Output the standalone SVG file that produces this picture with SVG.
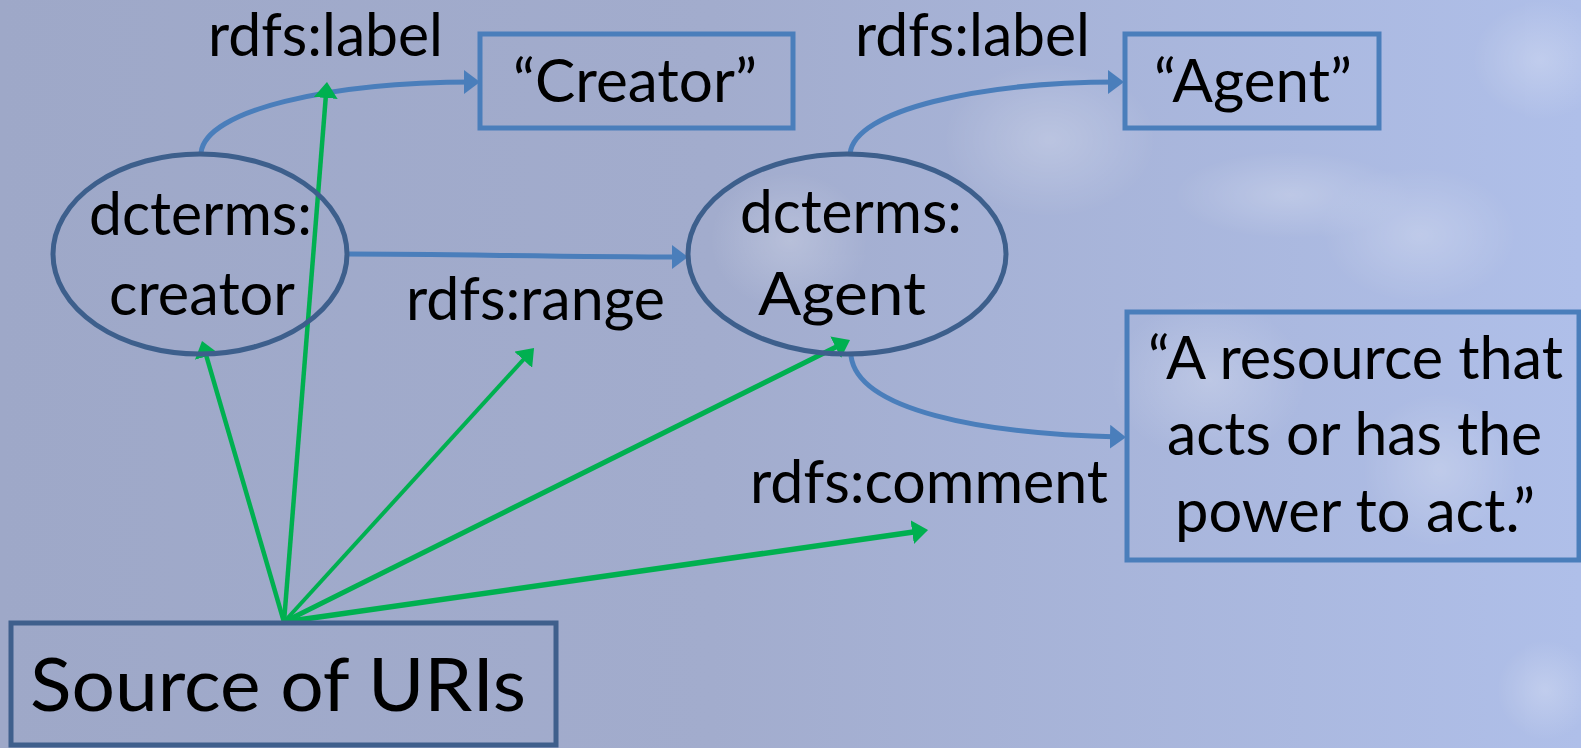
<svg xmlns="http://www.w3.org/2000/svg" width="1581" height="748" viewBox="0 0 1581 748">
<style>
text{font-family:Lato,"Liberation Sans",sans-serif;fill:#000;font-size:60px}
.big{font-size:74px}
.ell{fill:none;stroke:#3d5f8c;stroke-width:5}
.box{fill:none;stroke:#4a7ebb;stroke-width:5}
.src{fill:none;stroke:#3f5f8c;stroke-width:5}
.blue{fill:none;stroke:#4a7ebb;stroke-width:5;marker-end:url(#bh)}
.green{fill:none;stroke:#00b050;stroke-width:4.5;marker-end:url(#gh)}
</style>
<defs>
<linearGradient id="bg" x1="0" y1="0" x2="1" y2="0">
<stop offset="0" stop-color="#9ea8c8"/>
<stop offset="0.45" stop-color="#a2accd"/>
<stop offset="1" stop-color="#afbfe9"/>
</linearGradient>
<radialGradient id="glow">
<stop offset="0" stop-color="#ffffff" stop-opacity="0.5"/>
<stop offset="1" stop-color="#ffffff" stop-opacity="0"/>
</radialGradient>
<marker id="bh" viewBox="0 0 16 24" refX="10" refY="12" markerWidth="16" markerHeight="24" markerUnits="userSpaceOnUse" orient="auto">
<path d="M0,0 L16,12 L0,24 Z" fill="#4a7ebb"/>
</marker>
<marker id="gh" viewBox="0 0 16 24" refX="10" refY="12" markerWidth="16" markerHeight="24" markerUnits="userSpaceOnUse" orient="auto">
<path d="M0,0 L16,12 L0,24 Z" fill="#00b050"/>
</marker>
</defs>
<g id="background">
<rect x="0" y="0" width="1581" height="748" fill="url(#bg)"/>
<g opacity="0.45">
<ellipse cx="1050" cy="140" rx="110" ry="80" fill="url(#glow)"/>
<ellipse cx="790" cy="240" rx="80" ry="70" fill="url(#glow)"/>
<ellipse cx="1290" cy="195" rx="120" ry="45" fill="url(#glow)"/>
<ellipse cx="1420" cy="235" rx="100" ry="70" fill="url(#glow)"/>
<ellipse cx="1210" cy="380" rx="100" ry="80" fill="url(#glow)"/>
<ellipse cx="1540" cy="60" rx="70" ry="60" fill="url(#glow)"/>
<ellipse cx="1545" cy="690" rx="50" ry="50" fill="url(#glow)"/>
<ellipse cx="1440" cy="470" rx="80" ry="80" fill="url(#glow)"/>
</g>
</g>
<g id="connectors">
<path class="blue" d="M201,153 C205,110 330,82 474,82"/>
<path class="blue" d="M850,154 C854,110 980,82 1118,82"/>
<path class="blue" d="M348,254 C450,254 560,257 682,257"/>
<path class="blue" d="M851,356 C858,410 980,434 1120,437"/>
<path class="green" d="M284,622 L203.7,346.8"/>
<path class="green" d="M284,622 L326.5,88"/>
<path class="green" d="M284,622 L530,352.4" style="stroke-width:4"/>
<path class="green" d="M284,622 L844.6,342.7" style="stroke-width:5"/>
<path class="green" d="M284,622 L922.1,530.8" style="stroke-width:5.5"/>
</g>
<g id="creator-node">
<ellipse class="ell" cx="200" cy="254" rx="147" ry="100"/>
<text x="89" y="235" textLength="223" lengthAdjust="spacingAndGlyphs">dcterms:</text>
<text x="109" y="315" textLength="186" lengthAdjust="spacingAndGlyphs">creator</text>
</g>
<g id="agent-node">
<ellipse class="ell" cx="847" cy="254" rx="159" ry="100"/>
<text x="740" y="233" textLength="222" lengthAdjust="spacingAndGlyphs">dcterms:</text>
<text x="758" y="315" textLength="168" lengthAdjust="spacingAndGlyphs">Agent</text>
</g>
<g id="creator-literal">
<rect class="box" x="480" y="34" width="313" height="94"/>
<text x="513" y="102" textLength="244" lengthAdjust="spacingAndGlyphs">“Creator”</text>
</g>
<g id="agent-literal">
<rect class="box" x="1125" y="34" width="254" height="94"/>
<text x="1154" y="102" textLength="198" lengthAdjust="spacingAndGlyphs">“Agent”</text>
</g>
<g id="comment-literal">
<rect class="box" x="1127" y="312" width="452" height="248"/>
<text x="1148" y="379" textLength="415" lengthAdjust="spacingAndGlyphs">“A resource that</text>
<text x="1167" y="455" textLength="375" lengthAdjust="spacingAndGlyphs">acts or has the</text>
<text x="1175" y="532" textLength="360" lengthAdjust="spacingAndGlyphs">power to act.”</text>
</g>
<g id="source">
<rect class="src" x="11" y="623" width="545" height="122"/>
<text class="big" x="30" y="711" textLength="496" lengthAdjust="spacingAndGlyphs">Source of URIs</text>
</g>
<g id="labels">
<text x="208" y="56" textLength="235" lengthAdjust="spacingAndGlyphs">rdfs:label</text>
<text x="855" y="56" textLength="235" lengthAdjust="spacingAndGlyphs">rdfs:label</text>
<text x="406" y="320" textLength="259" lengthAdjust="spacingAndGlyphs">rdfs:range</text>
<text x="750" y="503" textLength="358" lengthAdjust="spacingAndGlyphs">rdfs:comment</text>
</g>
</svg>
